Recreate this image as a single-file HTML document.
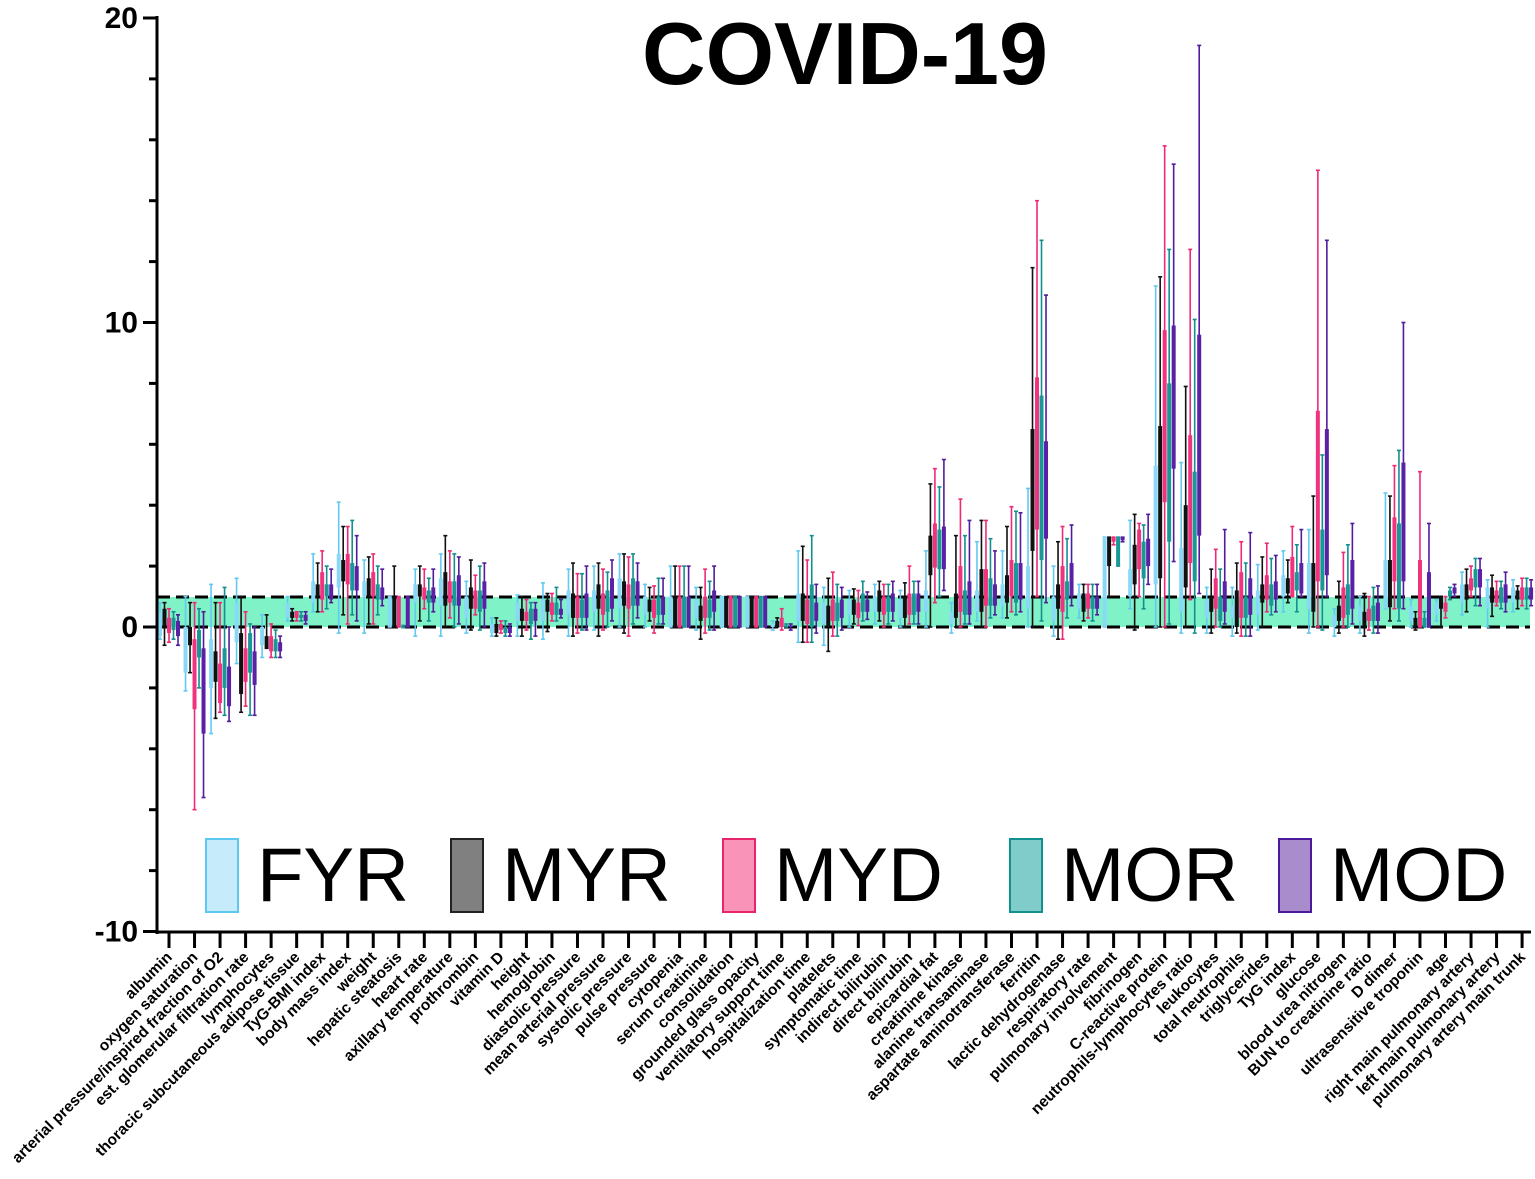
<!DOCTYPE html>
<html><head><meta charset="utf-8"><style>
html,body{margin:0;padding:0;background:#fff;}
svg{display:block;font-family:"Liberation Sans",Arial,sans-serif;}
</style></head><body>
<svg id="chart" width="1535" height="1179" viewBox="0 0 1535 1179" xmlns="http://www.w3.org/2000/svg">
<rect x="157" y="597" width="1373" height="30" fill="#80f2c8"/>
<line x1="157" y1="597" x2="1530" y2="597" stroke="#000" stroke-width="3" stroke-dasharray="13,6"/>
<line x1="157" y1="627" x2="1530" y2="627" stroke="#000" stroke-width="3" stroke-dasharray="13,6"/>
<g id="boxes"></g>
<g id="yaxis"></g>
<g id="xaxis"></g>
<text x="845" y="84" font-size="88" font-weight="bold" text-anchor="middle">COVID-19</text>
<g id="legend"></g>
</svg>
<script>
const categories = ["albumin","oxygen saturation","arterial pressure/inspired fraction of O2","est. glomerular filtration rate","lymphocytes","thoracic subcutaneous adipose tissue","TyG-BMI index","body mass index","weight","hepatic steatosis","heart rate","axillary temperature","prothrombin","vitamin D","height","hemoglobin","diastolic pressure","mean arterial pressure","systolic pressure","pulse pressure","cytopenia","serum creatinine","consolidation","grounded glass opacity","ventilatory support time","hospitalization time","platelets","symptomatic time","indirect bilirubin","direct bilirubin","epicardial fat","creatinine kinase","alanine transaminase","aspartate aminotransferase","ferritin","lactic dehydrogenase","respiratory rate","pulmonary involvement","fibrinogen","C-reactive protein","neutrophils-lymphocytes ratio","leukocytes","total neutrophils","triglycerides","TyG index","glucose","blood urea nitrogen","BUN to creatinine ratio","D dimer","ultrasensitive troponin","age","right main pulmonary artery","left main pulmonary artery","pulmonary artery main trunk"];
const seriesNames = ["FYR","MYR","MYD","MOR","MOD"];
const yTicks = [20,10,0,-10];
// [whisker low, q1, median, q3, whisker high]
const fyr = [[-0.4,-0.3,0,0.5,0.8],[-2.1,-1.5,-0.6,0,1],[-3.5,-2,-1.2,-0.4,1.4],[-1.2,-0.5,0.2,0.8,1.6],[-1,-0.6,-0.3,0,0.4],[0.2,0.3,0.6,0.8,1.0],[0.5,0.8,1.2,1.5,2.4],[-0.2,1.3,1.8,2.4,4.1],[-0.2,1,1.3,1.5,2.2],[0,0,1,1,1],[-0.3,0.8,1.1,1.4,1.9],[-0.3,0.7,1.1,1.6,2.4],[-0.2,0.3,0.7,1,1.5],[-0.3,-0.2,0,0.1,0.3],[-0.3,0.2,0.5,0.8,1.05],[-0.4,0.2,0.6,0.9,1.45],[-0.3,0.4,0.8,1.2,1.9],[-0.1,0.5,0.9,1.2,2],[0,0.6,1.1,1.6,2.4],[0,0.4,0.7,1,1.4],[0,0,1,1,2],[-0.1,0.3,0.6,0.9,1.3],[0,0,1,1,1],[0,0,1,1,1],[-0.1,0,0,0.1,0.2],[-0.5,0.2,0.6,1.1,2.5],[-0.6,0.1,0.4,0.8,1.3],[0,0.4,0.6,0.9,1.2],[0.1,0.5,0.8,1,1.4],[0,0.3,0.6,0.9,1.2],[0,0.5,0.9,1.2,2.5],[-0.2,0.1,0.3,0.5,0.8],[0.2,0.5,0.9,1.2,2.8],[0.3,0.7,1.0,1.4,2.5],[0,0.6,1.2,2.0,4.55],[-0.3,0.2,0.6,1.0,2.0],[0.3,0.6,0.9,1.1,1.4],[0,0,1,2.95,2.95],[0.6,1.0,1.5,1.9,3.5],[0,1.4,3,5.3,11.2],[-0.2,0.5,1.2,2.6,5.4],[-0.2,0.3,0.6,0.9,1.3],[-0.3,0.3,0.5,0.7,1.3],[-0.1,0.4,0.8,1.2,2.05],[0.5,1.0,1.3,1.7,2.5],[-0.2,0.6,1.3,2.1,3.2],[-0.3,0,0.2,0.4,0.6],[-0.2,0.2,0.4,0.7,1.0],[0.6,0.6,1.2,2.2,4.4],[0,0.2,0.4,0.7,0.9],[0.2,0.4,0.6,0.8,0.9],[0.4,0.8,1.1,1.4,1.8],[0,0.6,1,1.3,1.55],[0.5,0.8,1.0,1.3,1.55]];
const myr = [[-0.6,0,0.3,0.6,0.8],[-1.5,-0.6,-0.3,0,0.8],[-3,-1.8,-1.4,-0.8,0.8],[-2.8,-2.2,-1,-0.2,1],[-0.7,-0.7,-0.5,-0.3,0.4],[0.2,0.3,0.4,0.5,0.6],[0.5,1,1.2,1.4,2.1],[0.4,1.5,1.9,2.2,3.3],[0.1,1,1.3,1.6,2.3],[0,0,1,1,2],[0.2,1,1.2,1.4,2],[0,0.7,1.3,1.8,3],[-0.1,0.6,1,1.3,2.2],[-0.3,-0.2,-0.1,0.1,0.3],[-0.3,0.2,0.4,0.6,1],[-0.15,0.5,0.7,0.9,1.1],[-0.3,0.3,0.8,1.1,2.1],[-0.3,0.6,1,1.4,2.1],[-0.2,0.7,1.1,1.5,2.4],[0.2,0.5,0.7,0.9,1.3],[0,0,1,1,2],[-0.4,0.2,0.5,0.7,1.3],[0,0,1,1,1],[0,0,1,1,1],[0,0,0.1,0.2,0.3],[-0.5,0.2,0.7,1.1,2.65],[-0.8,0,0.4,0.7,1.6],[0.1,0.4,0.7,0.9,1.25],[0.2,0.5,0.9,1.2,1.5],[0,0.3,0.6,1,1.45],[0,1.7,2.4,3.0,4.7],[0,0.3,0.7,1.1,3.0],[0,0.5,1.2,1.9,3.5],[0.3,0.8,1.3,1.7,3.3],[0,2.5,4,6.5,11.8],[-0.4,0.6,0.9,1.4,2.8],[0.2,0.5,0.8,1.1,1.4],[1,2,2.95,2.95,2.95],[-0.1,1.4,2.0,2.7,3.7],[0,1.6,4,6.6,11.5],[0,1.3,2.5,4,7.9],[-0.2,0.5,0.8,1.0,1.9],[-0.2,0,0.5,1.2,2.1],[0,0.8,1.2,1.4,2.3],[0.8,1.1,1.3,1.6,2.2],[0,0.5,1.2,2.1,4.3],[-0.2,0.2,0.5,0.7,1.5],[-0.3,0,0.3,0.5,1.1],[0.2,0.65,1.2,2.2,4.3],[-0.1,0,0.1,0.3,0.5],[0,0.6,0.8,1,1],[0.5,0.9,1.1,1.4,1.9],[0.35,0.8,1.0,1.3,1.7],[0.6,0.9,1.0,1.2,1.35]];
const myd = [[-0.5,-0.2,0,0.3,0.6],[-6,-2.7,-1.5,-0.4,0.8],[-2.8,-2.5,-1.9,-1.2,0.8],[-2.6,-1.8,-1.2,-0.7,0.5],[-1,-0.8,-0.6,-0.3,0.1],[0.2,0.3,0.35,0.5,0.5],[0.5,0.9,1.3,1.8,2.5],[0.1,1.4,2,2.4,3.3],[0.1,1,1.5,1.8,2.4],[0,0,1,1,1],[0.6,0.9,1.1,1.3,1.9],[0.3,0.8,1.2,1.5,2.5],[0.4,0.6,0.9,1.2,1.7],[-0.2,-0.1,0,0.1,0.2],[-0.1,0.2,0.3,0.5,0.9],[0.2,0.4,0.6,0.8,1.1],[-0.2,0.3,0.6,1.0,1.75],[-0.1,0.4,0.8,1.1,1.9],[-0.3,0.6,1,1.4,2.3],[-0.2,0.3,0.6,0.9,1.35],[0,0,1,1,2],[-0.2,0.3,0.6,1.0,1.9],[0,0,1,1,1],[0,0,1,1,1],[-0.1,0,0.2,0.3,0.6],[-0.5,0.1,0.5,0.9,2.2],[-0.3,0.2,0.6,0.9,1.8],[0.05,0.3,0.5,0.8,1.2],[0,0.4,0.7,1,1.4],[0.1,0.4,0.7,1.1,2.0],[0.8,1.95,2.6,3.4,5.2],[0,0.5,1.2,2.0,4.2],[0,0.7,1.1,1.9,3.5],[0.5,1.0,1.5,2.2,3.95],[1,3.2,5.5,8.2,14],[-0.4,0.5,1.2,2.0,3.3],[0.3,0.6,0.8,1.1,1.4],[2.7,2.8,2.95,2.95,2.95],[1,1.9,2.6,3.2,3.4],[0,4.1,7,9.75,15.8],[0.9,2.1,4,6.3,12.4],[0,0.6,1.0,1.6,2.55],[-0.3,0.3,0.9,1.8,2.8],[0.5,0.9,1.2,1.7,2.75],[1.0,1.0,1.6,2.3,3.3],[0,1.5,3.5,7.1,15],[0,0.3,0.8,1.3,2.45],[-0.1,0.2,0.4,0.6,1.0],[0.6,1.5,2.5,3.6,5.3],[0,0,1.1,2.2,5.1],[0.3,0.5,0.6,0.8,1.0],[1,1.2,1.4,1.6,2.0],[0.7,0.8,1.0,1.2,1.5],[0.7,0.9,1.1,1.3,1.6]];
const mor = [[-0.4,-0.1,0.1,0.3,0.5],[-2,-1,-0.5,-0.1,0.6],[-2.9,-2,-1.3,-0.7,1.3],[-2.9,-1.5,-0.8,-0.2,0.1],[-1,-0.8,-0.6,-0.4,-0.1],[0.2,0.3,0.35,0.4,0.5],[0.6,1,1.2,1.4,2],[0.4,1.2,1.6,2.1,3.5],[0.4,0.9,1.1,1.4,2],[0,0,0,0,0.05],[0.2,0.8,1,1.2,1.6],[0,0.7,1,1.5,2.4],[-0.1,0.5,0.9,1.2,2],[-0.3,-0.2,-0.1,0,0.2],[-0.4,0.1,0.3,0.6,0.8],[0.2,0.4,0.6,0.8,1.3],[-0.1,0.3,0.6,0.9,1.75],[0,0.5,0.9,1.2,1.8],[0.1,0.7,1.2,1.6,2.4],[0.1,0.4,0.7,1,1.6],[0,0,1,1,2],[-0.1,0.3,0.6,0.9,1.5],[0,0,1,1,1],[0,0,1,1,1],[0,0,0,0.05,0.1],[-0.5,0,0.6,1.4,3.0],[-0.3,0.2,0.5,0.8,1.4],[0.2,0.5,0.8,1.1,1.5],[0.1,0.5,0.7,1,1.4],[0.1,0.4,0.8,1.1,1.5],[1,1.9,2.6,3.2,4.6],[0.1,0.4,0.8,1.2,3.0],[0.3,0.7,1.0,1.6,2.9],[0.4,0.8,1.4,2.1,3.8],[0.2,2.2,4.5,7.6,12.7],[0.3,0.9,1.2,1.5,2.9],[0.2,0.6,0.8,1.0,1.4],[2,2,2.95,2.95,2.95],[0.6,1.6,2.2,2.8,3.35],[0.1,2.8,5.3,8,12.4],[-0.2,1.5,3,5.1,10.1],[0,0.2,0.6,1.0,1.9],[-0.3,0.3,0.6,1.0,2.1],[0.4,0.7,1.0,1.4,2.25],[0.5,1.2,1.4,1.8,2.7],[-0.1,1.2,2,3.2,5.65],[0,0.4,0.8,1.4,2.7],[-0.2,0.2,0.4,0.7,1.3],[0.2,0.6,1.8,3.4,5.8],[0,0,0.1,0.3,0.5],[0.9,1.0,1.1,1.2,1.3],[0.7,1.3,1.5,1.9,2.25],[0.6,0.8,1.0,1.3,1.5],[0.6,0.9,1.1,1.3,1.6]];
const mod = [[-0.6,-0.3,-0.1,0.2,0.4],[-5.6,-3.5,-2,-0.7,0.5],[-3.1,-2.6,-2,-1.3,0],[-2.9,-1.9,-1.3,-0.8,0],[-1,-0.8,-0.7,-0.5,-0.3],[0.1,0.2,0.3,0.4,0.5],[0.8,0.9,1.1,1.4,1.9],[0.2,1.2,1.6,2,3],[0.7,0.9,1,1.3,1.9],[0,0,1,1,1],[0.5,0.8,1.1,1.3,1.9],[0.1,0.7,1.1,1.7,2.3],[0,0.6,1,1.5,2.1],[-0.3,-0.2,-0.1,0,0.1],[-0.3,0.2,0.35,0.6,0.8],[0.3,0.4,0.5,0.6,0.9],[-0.1,0.3,0.7,1.1,2.0],[0.2,0.6,1,1.6,2.2],[0.3,0.7,1.1,1.5,2.1],[0.1,0.4,0.7,1,1.6],[0,0,1,1,2],[-0.1,0.5,0.8,1.2,2],[0,0,1,1,1],[0,0,1,1,1],[-0.1,0,0,0.05,0.1],[-0.2,0.2,0.5,0.8,1.4],[-0.1,0.3,0.6,0.9,1.3],[0.25,0.5,0.7,0.9,1.15],[0.2,0.5,0.8,1.1,1.5],[0.1,0.5,0.8,1.1,1.5],[1.2,1.9,2.8,3.3,5.5],[0.1,0.4,0.9,1.5,3.5],[0.4,0.7,1.0,1.4,2.5],[0.5,0.9,1.4,2.1,3.75],[0.8,2.9,4.2,6.1,10.9],[0.7,1.0,1.5,2.1,3.35],[0.4,0.6,0.8,1.0,1.4],[2.8,2.85,2.95,2.95,2.95],[1.4,2.0,2.5,2.9,3.7],[2.15,5.2,7.5,9.9,15.2],[1.1,3,5,9.6,19.1],[0.1,0.5,1.0,1.5,3.2],[-0.3,0.4,1.0,1.6,3.1],[0.5,0.9,1.2,1.5,2.35],[1.0,1.1,1.6,2.1,3.2],[1.0,1.7,3.5,6.5,12.7],[0.1,0.6,1.2,2.2,3.4],[-0.2,0.2,0.5,0.8,1.35],[0.6,1.5,3,5.4,10.0],[0,0,0.9,1.8,3.4],[1.0,1.1,1.2,1.3,1.4],[0.7,1.3,1.5,1.9,2.25],[0.5,0.8,1.0,1.4,1.8],[0.7,0.9,1.1,1.3,1.55]];

const NS="http://www.w3.org/2000/svg";
const yScale = v => 627 - v*30.45;
const xScale = i => 169 + i*25.53;
const strokeCols = ["#62c9f2","#111111","#ee2a78","#12908e","#511b9c"];
const boxCols = ["#8ad8f7","#111111","#f0327f","#1a9896","#5a20a6"];
const offsets = [-9,-4.5,0,4.5,9];
const allSeries = [fyr,myr,myd,mor,mod];
function mk(tag, attrs, parent){const e=document.createElementNS(NS,tag);for(const k in attrs)e.setAttribute(k,attrs[k]);parent.appendChild(e);return e;}

const gB=document.getElementById('boxes');
allSeries.forEach((ser,s)=>{
  ser.forEach((d,i)=>{
    const cx=xScale(i)+offsets[s];
    const g=mk('g',{},gB);
    
    
    const col=strokeCols[s];
    mk('line',{x1:cx,x2:cx,y1:yScale(d[4]),y2:yScale(d[0]),stroke:col,'stroke-width':1.6},g);
    mk('line',{x1:cx-2,x2:cx+2,y1:yScale(d[4]),y2:yScale(d[4]),stroke:col,'stroke-width':1.6},g);
    mk('line',{x1:cx-2,x2:cx+2,y1:yScale(d[0]),y2:yScale(d[0]),stroke:col,'stroke-width':1.6},g);
    const top=yScale(d[3]), bot=yScale(d[1]);
    mk('rect',{x:cx-2,y:top,width:4,height:Math.max(1.5,bot-top),fill:boxCols[s]},g);
  });
});

const gY=document.getElementById('yaxis');
mk('line',{x1:157,x2:157,y1:16,y2:934,stroke:'#000','stroke-width':3},gY);
for(let v=-10; v<=20; v+=2){
  const major = v%10===0;
  mk('line',{x1:major?143:149,x2:157,y1:yScale(v),y2:yScale(v),stroke:'#000','stroke-width':3},gY);
}
yTicks.forEach(v=>{
  const t=mk('text',{x:138,y:yScale(v)+10,'font-size':30,'font-weight':'bold','text-anchor':'end'},gY);
  
  
  t.textContent=String(v);
});

const gX=document.getElementById('xaxis');
mk('line',{x1:156,x2:1531,y1:932,y2:932,stroke:'#000','stroke-width':3},gX);
categories.forEach((c,i)=>{
  const x=xScale(i);
  mk('line',{x1:x,x2:x,y1:932,y2:948,stroke:'#000','stroke-width':3},gX);
  const tx=x+4, ty=958;
  const t=mk('text',{x:tx,y:ty,'font-size':15.5,'font-weight':'bold','text-anchor':'end',transform:`rotate(-45 ${tx} ${ty})`},gX);
  
  
  t.textContent=c;
});

const gL=document.getElementById('legend');
const legFill=["#c6ecfb","#808080","#fa93b8","#80cccb","#a88ccc"];
const legStroke=["#5cc8f0","#222","#e8246c","#119090","#4b1a9a"];
const legX=[206,451,723,1010,1279];
seriesNames.forEach((n,s)=>{
  const r=mk('rect',{x:legX[s],y:839,width:32,height:73,fill:legFill[s],stroke:legStroke[s],'stroke-width':2},gL);
  
  
  const t=mk('text',{x:legX[s]+51,y:901,'font-size':76},gL);
  
  
  t.textContent=n;
});
</script>
</body></html>
